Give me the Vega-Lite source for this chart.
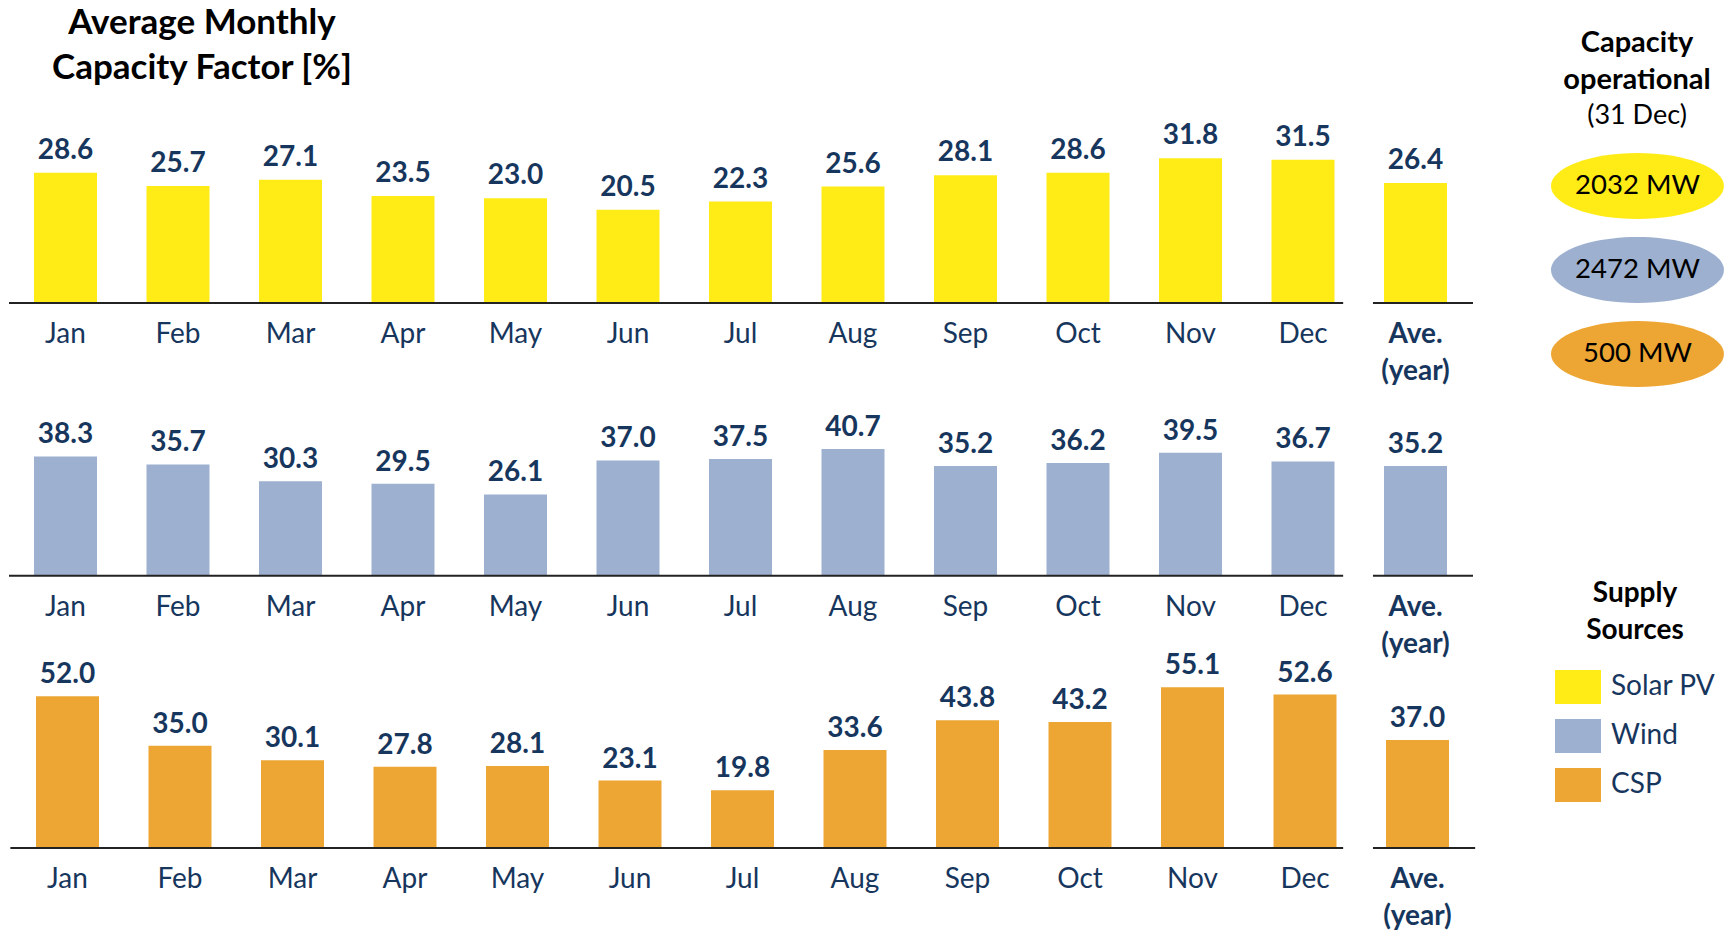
{
  "$schema": "https://vega.github.io/schema/vega-lite/v6.json",
  "width": 1732,
  "height": 933,
  "autosize": {"type": "fit", "contains": "padding"},
  "padding": 0,
  "background": "#ffffff",
  "config": {
    "view": {"stroke": null},
    "font": "Lato",
    "legend": {
      "padding": 0,
      "offset": 0,
      "symbolSize": 2116,
      "symbolStrokeWidth": 0,
      "symbolOpacity": 1,
      "labelFont": "Lato",
      "labelFontSize": 28,
      "labelColor": "#17365D",
      "labelOffset": 10,
      "labelLimit": 300,
      "titleFont": "Lato",
      "titleFontSize": 28,
      "titleFontWeight": "bold",
      "titleColor": "#000000",
      "titleLineHeight": 37,
      "titleAnchor": "middle",
      "titlePadding": 19,
      "rowPadding": 9
    }
  },
  "datasets": {
    "cf": [
      {"source": "Solar PV", "month": "Jan", "i": 1, "value": 28.6},
      {"source": "Solar PV", "month": "Feb", "i": 2, "value": 25.7},
      {"source": "Solar PV", "month": "Mar", "i": 3, "value": 27.1},
      {"source": "Solar PV", "month": "Apr", "i": 4, "value": 23.5},
      {"source": "Solar PV", "month": "May", "i": 5, "value": 23.0},
      {"source": "Solar PV", "month": "Jun", "i": 6, "value": 20.5},
      {"source": "Solar PV", "month": "Jul", "i": 7, "value": 22.3},
      {"source": "Solar PV", "month": "Aug", "i": 8, "value": 25.6},
      {"source": "Solar PV", "month": "Sep", "i": 9, "value": 28.1},
      {"source": "Solar PV", "month": "Oct", "i": 10, "value": 28.6},
      {"source": "Solar PV", "month": "Nov", "i": 11, "value": 31.8},
      {"source": "Solar PV", "month": "Dec", "i": 12, "value": 31.5},
      {"source": "Solar PV", "month": "Ave.\n(year)", "i": 13, "value": 26.4},
      {"source": "Wind", "month": "Jan", "i": 1, "value": 38.3},
      {"source": "Wind", "month": "Feb", "i": 2, "value": 35.7},
      {"source": "Wind", "month": "Mar", "i": 3, "value": 30.3},
      {"source": "Wind", "month": "Apr", "i": 4, "value": 29.5},
      {"source": "Wind", "month": "May", "i": 5, "value": 26.1},
      {"source": "Wind", "month": "Jun", "i": 6, "value": 37.0},
      {"source": "Wind", "month": "Jul", "i": 7, "value": 37.5},
      {"source": "Wind", "month": "Aug", "i": 8, "value": 40.7},
      {"source": "Wind", "month": "Sep", "i": 9, "value": 35.2},
      {"source": "Wind", "month": "Oct", "i": 10, "value": 36.2},
      {"source": "Wind", "month": "Nov", "i": 11, "value": 39.5},
      {"source": "Wind", "month": "Dec", "i": 12, "value": 36.7},
      {"source": "Wind", "month": "Ave.\n(year)", "i": 13, "value": 35.2},
      {"source": "CSP", "month": "Jan", "i": 1, "value": 52.0},
      {"source": "CSP", "month": "Feb", "i": 2, "value": 35.0},
      {"source": "CSP", "month": "Mar", "i": 3, "value": 30.1},
      {"source": "CSP", "month": "Apr", "i": 4, "value": 27.8},
      {"source": "CSP", "month": "May", "i": 5, "value": 28.1},
      {"source": "CSP", "month": "Jun", "i": 6, "value": 23.1},
      {"source": "CSP", "month": "Jul", "i": 7, "value": 19.8},
      {"source": "CSP", "month": "Aug", "i": 8, "value": 33.6},
      {"source": "CSP", "month": "Sep", "i": 9, "value": 43.8},
      {"source": "CSP", "month": "Oct", "i": 10, "value": 43.2},
      {"source": "CSP", "month": "Nov", "i": 11, "value": 55.1},
      {"source": "CSP", "month": "Dec", "i": 12, "value": 52.6},
      {"source": "CSP", "month": "Ave.\n(year)", "i": 13, "value": 37.0}
    ],
    "cap": [
      {"source": "Solar PV", "mw": "2032 MW"},
      {"source": "Wind", "mw": "2472 MW"},
      {"source": "CSP", "mw": "500 MW"}
    ]
  },
  "resolve": {"scale": {"y": "independent"}},
  "layer": [
    {
      "layer": [
        {
          "data": {"name": "cf"},
          "transform": [{"filter": "datum.source === 'Solar PV'"}],
          "encoding": {
            "x": {"field": "i", "type": "quantitative", "scale": {"domain": [0.41778, 15.81333], "nice": false, "zero": false, "padding": 0}, "axis": null},
            "y": {"field": "value", "type": "quantitative", "scale": {"domain": [-138.462, 66.593], "nice": false, "zero": false}, "axis": null}
          },
          "layer": [
            {"mark": {"type": "bar", "width": 63}, "encoding": {"y2": {"datum": 0}, "color": {"field": "source", "type": "nominal", "title": ["Supply", "Sources"], "scale": {"domain": ["Solar PV", "Wind", "CSP"], "range": ["#FFEC17", "#9DB0CF", "#EDA633"]}, "legend": {"orient": "none", "legendX": 1555, "legendY": 580, "symbolType": "M-1,-0.739H1V0.739H-1Z"}}}},
            {"mark": {"type": "text", "fontWeight": "bold", "fontSize": 28, "color": "#17365D", "baseline": "alphabetic", "dy": -14}, "encoding": {"text": {"field": "value", "type": "quantitative", "format": ".1f"}}},
            {"transform": [{"filter": "datum.i <= 12"}], "mark": {"type": "text", "fontSize": 28, "color": "#17365D", "baseline": "alphabetic", "dy": 40.5}, "encoding": {"y": {"datum": 0}, "text": {"field": "month"}}},
            {"transform": [{"filter": "datum.i === 13"}], "mark": {"type": "text", "fontSize": 28, "fontWeight": "bold", "color": "#17365D", "baseline": "alphabetic", "dy": 40.5, "lineBreak": "\n", "lineHeight": 37}, "encoding": {"y": {"datum": 0}, "text": {"field": "month"}}}
          ]
        },
        {
          "data": {"values": [{}]},
          "layer": [
            {"mark": {"type": "rule", "color": "#222222", "strokeWidth": 2}, "encoding": {"x": {"datum": 0.4978}, "x2": {"datum": 12.357}, "y": {"datum": 0}}},
            {"mark": {"type": "rule", "color": "#222222", "strokeWidth": 2}, "encoding": {"x": {"datum": 12.622}, "x2": {"datum": 13.511}, "y": {"datum": 0}}}
          ]
        },
        {
          "data": {"values": [{"t": "Average Monthly\nCapacity Factor [%]"}]},
          "mark": {"type": "text", "fontSize": 35, "fontWeight": "bold", "color": "#000000", "align": "center", "baseline": "alphabetic", "lineBreak": "\n", "lineHeight": 45},
          "encoding": {"x": {"datum": 2.2133}, "y": {"datum": 59.12}, "text": {"field": "t"}}
        },
        {
          "data": {"values": [{"t": "Capacity\noperational"}]},
          "mark": {"type": "text", "fontSize": 29, "fontWeight": "bold", "color": "#000000", "align": "center", "baseline": "alphabetic", "lineBreak": "\n", "lineHeight": 37.5},
          "encoding": {"x": {"datum": 14.969}, "y": {"datum": 55.23}, "text": {"field": "t"}}
        },
        {
          "data": {"values": [{"t": "(31 Dec)"}]},
          "mark": {"type": "text", "fontSize": 27, "color": "#000000", "align": "center", "baseline": "alphabetic"},
          "encoding": {"x": {"datum": 14.969}, "y": {"datum": 39.34}, "text": {"field": "t"}}
        }
      ]
    },
    {
      "layer": [
        {
          "data": {"name": "cf"},
          "transform": [{"filter": "datum.source === 'Wind'"}],
          "encoding": {
            "x": {"field": "i", "type": "quantitative", "scale": {"domain": [0.41778, 15.81333], "nice": false, "zero": false, "padding": 0}, "axis": null},
            "y": {"field": "value", "type": "quantitative", "scale": {"domain": [-114.703, 184.815], "nice": false, "zero": false}, "axis": null}
          },
          "layer": [
            {"mark": {"type": "bar", "width": 63}, "encoding": {"y2": {"datum": 0}, "color": {"field": "source", "type": "nominal", "title": ["Supply", "Sources"], "scale": {"domain": ["Solar PV", "Wind", "CSP"], "range": ["#FFEC17", "#9DB0CF", "#EDA633"]}, "legend": {"orient": "none", "legendX": 1555, "legendY": 580, "symbolType": "M-1,-0.739H1V0.739H-1Z"}}}},
            {"mark": {"type": "text", "fontWeight": "bold", "fontSize": 28, "color": "#17365D", "baseline": "alphabetic", "dy": -13}, "encoding": {"text": {"field": "value", "type": "quantitative", "format": ".1f"}}},
            {"transform": [{"filter": "datum.i <= 12"}], "mark": {"type": "text", "fontSize": 28, "color": "#17365D", "baseline": "alphabetic", "dy": 40.5}, "encoding": {"y": {"datum": 0}, "text": {"field": "month"}}},
            {"transform": [{"filter": "datum.i === 13"}], "mark": {"type": "text", "fontSize": 28, "fontWeight": "bold", "color": "#17365D", "baseline": "alphabetic", "dy": 40.5, "lineBreak": "\n", "lineHeight": 37}, "encoding": {"y": {"datum": 0}, "text": {"field": "month"}}}
          ]
        },
        {
          "data": {"values": [{}]},
          "layer": [
            {"mark": {"type": "rule", "color": "#222222", "strokeWidth": 2}, "encoding": {"x": {"datum": 0.4978}, "x2": {"datum": 12.357}, "y": {"datum": 0}}},
            {"mark": {"type": "rule", "color": "#222222", "strokeWidth": 2}, "encoding": {"x": {"datum": 12.622}, "x2": {"datum": 13.511}, "y": {"datum": 0}}}
          ]
        }
      ]
    },
    {
      "layer": [
        {
          "data": {"name": "cf"},
          "transform": [{"filter": "datum.source === 'CSP'"}],
          "encoding": {
            "x": {"field": "i", "type": "quantitative", "scale": {"domain": [0.41778, 15.81333], "nice": false, "zero": false, "padding": 0}, "axis": null},
            "y": {"field": "value", "type": "quantitative", "scale": {"domain": [-29.194, 290.875], "nice": false, "zero": false}, "axis": null}
          },
          "layer": [
            {"mark": {"type": "bar", "width": 63, "xOffset": 2}, "encoding": {"y2": {"datum": 0}, "color": {"field": "source", "type": "nominal", "title": ["Supply", "Sources"], "scale": {"domain": ["Solar PV", "Wind", "CSP"], "range": ["#FFEC17", "#9DB0CF", "#EDA633"]}, "legend": {"orient": "none", "legendX": 1555, "legendY": 580, "symbolType": "M-1,-0.739H1V0.739H-1Z"}}}},
            {"mark": {"type": "text", "fontWeight": "bold", "fontSize": 28, "color": "#17365D", "baseline": "alphabetic", "dy": -13, "xOffset": 2}, "encoding": {"text": {"field": "value", "type": "quantitative", "format": ".1f"}}},
            {"transform": [{"filter": "datum.i <= 12"}], "mark": {"type": "text", "fontSize": 28, "color": "#17365D", "baseline": "alphabetic", "dy": 40.5, "xOffset": 2}, "encoding": {"y": {"datum": 0}, "text": {"field": "month"}}},
            {"transform": [{"filter": "datum.i === 13"}], "mark": {"type": "text", "fontSize": 28, "fontWeight": "bold", "color": "#17365D", "baseline": "alphabetic", "dy": 40.5, "xOffset": 2, "lineBreak": "\n", "lineHeight": 37}, "encoding": {"y": {"datum": 0}, "text": {"field": "month"}}}
          ]
        },
        {
          "data": {"values": [{}]},
          "layer": [
            {"mark": {"type": "rule", "color": "#222222", "strokeWidth": 2}, "encoding": {"x": {"datum": 0.51}, "x2": {"datum": 12.357}, "y": {"datum": 0}}},
            {"mark": {"type": "rule", "color": "#222222", "strokeWidth": 2}, "encoding": {"x": {"datum": 12.622}, "x2": {"datum": 13.53}, "y": {"datum": 0}}}
          ]
        }
      ]
    },
    {
      "data": {"name": "cap"},
      "encoding": {
        "x": {"datum": 14.973},
        "y": {"field": "source", "type": "nominal", "scale": {"domain": ["Solar PV", "Wind", "CSP"], "range": [186, 354], "padding": 0}, "axis": null}
      },
      "layer": [
        {"mark": {"type": "point", "shape": "M-1,0A1,0.3815,0,1,1,1,0A1,0.3815,0,1,1,-1,0Z", "size": 29929, "filled": true, "opacity": 1, "strokeWidth": 0}, "encoding": {"color": {"field": "source", "type": "nominal", "title": ["Supply", "Sources"], "scale": {"domain": ["Solar PV", "Wind", "CSP"], "range": ["#FFEC17", "#9DB0CF", "#EDA633"]}, "legend": {"orient": "none", "legendX": 1555, "legendY": 580, "symbolType": "M-1,-0.739H1V0.739H-1Z"}}}},
        {"mark": {"type": "text", "fontSize": 27.5, "color": "#000000", "baseline": "middle", "align": "center"}, "encoding": {"text": {"field": "mw"}}}
      ]
    }
  ]
}
